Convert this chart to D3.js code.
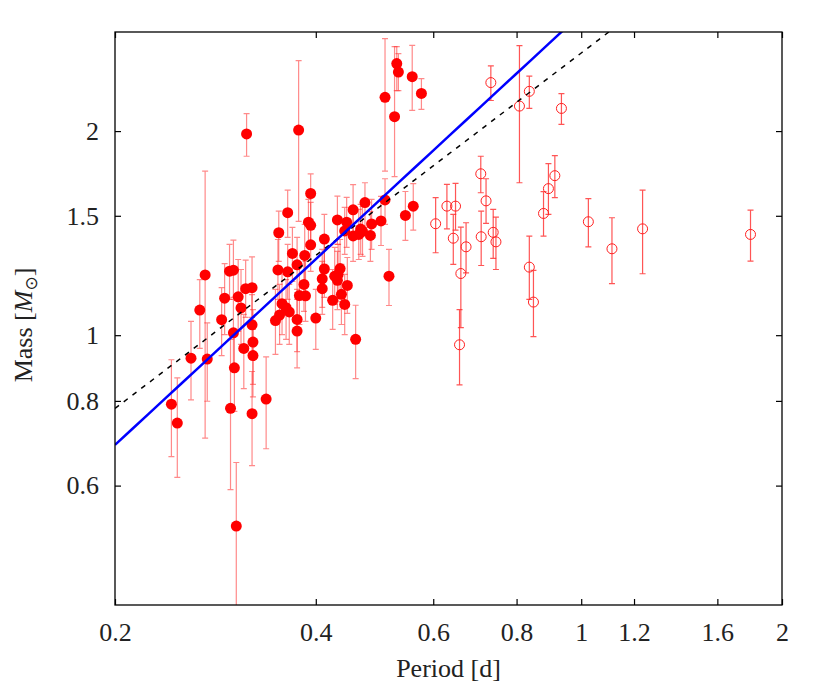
<!DOCTYPE html>
<html>
<head>
<meta charset="utf-8">
<script src="https://cdn.jsdelivr.net/npm/d3@7"></script>
<style>
  body { margin: 0; background: #fff; }
  text { font-family: "Liberation Serif", "DejaVu Serif", serif; }
</style>
</head>
<body>
<div id="chart"></div>
<script>
// filled points (short period sample): period [d], mass, upper and lower error limits
const filledPeriod = [0.243,0.248,0.260,0.268,0.273,0.275,0.289,0.292,0.297,0.301,0.298,0.302,0.304,0.306,0.309,0.301,0.312,0.314,0.321,0.315,
  0.321,0.322,0.322,0.321,0.337,0.348,0.352,0.351,0.353,0.356,0.361,0.365,0.363,0.363,0.369,0.375,0.375,0.375,0.378,0.377,
  0.384,0.385,0.386,0.390,0.393,0.393,0.393,0.400,0.409,0.409,0.412,0.412,0.424,0.427,0.432,0.431,0.431,0.435,0.437,0.442,
  0.442,0.445,0.446,0.455,0.455,0.459,0.464,0.467,0.470,0.474,0.483,0.485,0.501,0.508,0.515,0.545,0.560,0.508,0.525,0.529,
  0.532,0.558,0.576];
const filledMass = [0.791,0.742,0.925,1.089,1.227,0.922,1.054,1.134,1.243,1.247,0.780,0.895,0.523,1.139,1.097,1.008,0.956,1.171,1.175,1.981,
  1.036,0.977,0.933,0.766,0.805,1.051,1.416,1.248,1.071,1.113,1.098,1.082,1.516,1.240,1.320,1.270,1.055,1.014,1.144,2.007,
  1.188,1.311,1.143,1.468,1.452,1.618,1.359,1.060,1.211,1.171,1.386,1.252,1.126,1.222,1.229,1.205,1.479,1.254,1.149,1.110,
  1.425,1.468,1.184,1.531,1.401,0.986,1.408,1.434,1.423,1.569,1.403,1.459,1.474,1.583,1.222,1.502,1.550,2.243,2.100,2.515,
  2.444,2.406,2.273];
const filledHi = [0.920,0.865,1.048,1.208,1.746,1.043,1.175,1.275,1.361,1.381,0.986,1.020,0.649,1.293,1.250,1.129,1.073,1.290,1.305,2.122,
  1.148,1.091,1.020,0.884,0.929,1.168,1.524,1.384,1.188,1.229,1.208,1.188,1.637,1.361,1.442,1.394,1.168,1.129,1.272,2.541,
  1.316,1.457,1.285,1.586,1.570,1.730,1.482,1.168,1.338,1.285,1.507,1.375,1.250,1.347,1.361,1.329,1.604,1.384,1.272,1.229,
  1.543,1.597,1.302,1.667,1.522,1.107,1.533,1.559,1.549,1.678,1.522,1.586,1.602,1.701,1.338,1.629,1.673,2.737,2.664,2.664,
  2.601,2.676,2.390];
const filledLo = [0.662,0.617,0.803,0.956,0.705,0.799,0.933,1.002,1.129,1.137,0.592,0.772,0.356,1.013,0.969,0.905,0.834,1.062,1.062,1.836,
  0.921,0.811,0.846,0.642,0.680,0.937,1.285,1.129,0.969,1.002,0.986,0.969,1.394,1.129,1.200,1.156,0.946,0.895,1.037,1.472,
  1.084,1.188,1.048,1.352,1.338,1.472,1.242,0.953,1.099,1.073,1.272,1.137,1.020,1.110,1.121,1.091,1.361,1.137,1.037,1.002,
  1.316,1.347,1.077,1.408,1.285,0.863,1.293,1.316,1.307,1.442,1.285,1.338,1.356,1.457,1.106,1.380,1.429,1.746,1.713,2.294,
  2.294,2.146,2.153];

// open points (long period sample)
const openPeriod = [0.732,0.808,0.836,0.934,0.707,0.720,0.913,0.893,0.878,0.629,0.648,0.605,0.643,0.672,0.660,0.657,0.708,0.738,0.745,0.836,
  0.848,1.025,1.112,1.236,1.794];
const openMass = [2.358,2.177,2.289,2.160,1.730,1.578,1.719,1.645,1.512,1.550,1.550,1.460,1.390,1.350,1.233,0.968,1.397,1.418,1.373,1.260,
  1.119,1.470,1.341,1.435,1.408];
const openHi = [2.495,2.673,2.411,2.271,1.836,1.701,1.840,1.791,1.628,1.669,1.674,1.595,1.507,1.465,1.443,1.091,1.524,1.533,1.493,1.400,
  1.246,1.590,1.490,1.637,1.529];
const openLo = [2.219,1.678,2.160,2.046,1.622,1.462,1.595,1.507,1.400,1.435,1.429,1.323,1.272,1.236,1.026,0.845,1.267,1.298,1.250,1.129,
  0.995,1.350,1.191,1.232,1.286];

// power-law fits M = a * P^b
const fitSolid = { a: 2.98, b: 0.91 };
const fitDashed = { a: 2.607, b: 0.75 };

const xTicks = [0.2, 0.4, 0.6, 0.8, 1, 1.2, 1.6, 2];
const yTicks = [0.6, 0.8, 1, 1.5, 2];
const xDomain = [0.2, 2];
const yDomain = [0.4, 2.8];

const margin = { top: 32, right: 48, bottom: 87, left: 115 };
const W = 830, H = 692;
const width = W - margin.left - margin.right;
const height = H - margin.top - margin.bottom;

const svg = d3.select('#chart').append('svg')
  .attr('width', W).attr('height', H);
const g = svg.append('g').attr('transform', `translate(${margin.left},${margin.top})`);

const x = d3.scaleLog().domain(xDomain).range([0, width]);
const y = d3.scaleLog().domain(yDomain).range([height, 0]);

g.append('clipPath').attr('id', 'plotclip')
  .append('rect').attr('width', width).attr('height', height);

const plot = g.append('g').attr('clip-path', 'url(#plotclip)');

const filled = filledPeriod.map((p, i) => ({ p, m: filledMass[i], hi: filledHi[i], lo: filledLo[i] }));
const open = openPeriod.map((p, i) => ({ p, m: openMass[i], hi: openHi[i], lo: openLo[i] }));

function errorBars(sel, data, opacity) {
  const eb = sel.append('g')
    .attr('stroke', '#ff2a2a').attr('stroke-opacity', opacity).attr('stroke-width', 1.2).attr('fill', 'none');
  eb.selectAll('.bar').data(data).enter().append('path')
    .attr('d', d => {
      const cx = x(d.p), y1 = y(d.hi), y0 = y(d.lo);
      return `M${cx},${y0}V${y1}M${cx - 3},${y1}H${cx + 3}M${cx - 3},${y0}H${cx + 3}`;
    });
}

errorBars(plot, filled, 0.55);
errorBars(plot, open, 0.8);

plot.append('g').selectAll('circle').data(filled).enter().append('circle')
  .attr('cx', d => x(d.p)).attr('cy', d => y(d.m)).attr('r', 5.5)
  .attr('fill', '#ff0000');

plot.append('g').selectAll('circle').data(open).enter().append('circle')
  .attr('cx', d => x(d.p)).attr('cy', d => y(d.m)).attr('r', 5)
  .attr('fill', 'none').attr('stroke', '#ff2020').attr('stroke-width', 1);

// fit lines
const fitLine = d3.line().x(p => x(p)).y(p => y(p));
function drawFit(f, attrs) {
  const pts = d3.range(0, 41).map(i => xDomain[0] * Math.pow(xDomain[1] / xDomain[0], i / 40));
  const path = plot.append('path')
    .datum(pts)
    .attr('fill', 'none')
    .attr('d', d3.line().x(p => x(p)).y(p => y(f.a * Math.pow(p, f.b))));
  Object.entries(attrs).forEach(([k, v]) => path.attr(k, v));
}
drawFit(fitDashed, { stroke: '#000', 'stroke-width': 1.5, 'stroke-dasharray': '5,6' });
drawFit(fitSolid, { stroke: '#0000ff', 'stroke-width': 2.5 });

// axes: ticks point inward on all four sides
const fmt = d => d3.format('~g')(d);
const xAxisB = d3.axisBottom(x).tickValues(xTicks).tickFormat(fmt).tickSizeInner(-6).tickSizeOuter(0).tickPadding(18);
const xAxisT = d3.axisTop(x).tickValues(xTicks).tickFormat('').tickSizeInner(-6).tickSizeOuter(0);
const yAxisL = d3.axisLeft(y).tickValues(yTicks).tickFormat(fmt).tickSizeInner(-6).tickSizeOuter(0).tickPadding(16);
const yAxisR = d3.axisRight(y).tickValues(yTicks).tickFormat('').tickSizeInner(-6).tickSizeOuter(0);

function styleAxis(a) {
  a.select('.domain').remove();
  a.selectAll('.tick line').attr('stroke', '#000').attr('stroke-width', 1.2);
  a.selectAll('.tick text').attr('font-size', 26).attr('fill', '#222')
    .style('font-family', '"Liberation Serif", serif');
}
styleAxis(g.append('g').attr('transform', `translate(0,${height})`).call(xAxisB));
styleAxis(g.append('g').call(xAxisT));
styleAxis(g.append('g').call(yAxisL));
styleAxis(g.append('g').attr('transform', `translate(${width},0)`).call(yAxisR));

g.append('rect').attr('width', width).attr('height', height)
  .attr('fill', 'none').attr('stroke', '#000').attr('stroke-width', 1.3);

// axis labels
svg.append('text')
  .attr('x', margin.left + width / 2).attr('y', 677)
  .attr('text-anchor', 'middle').attr('font-size', 26).attr('fill', '#222')
  .text('Period [d]');

const yl = svg.append('text')
  .attr('transform', `translate(32,${325}) rotate(-90)`)
  .attr('text-anchor', 'middle').attr('font-size', 26).attr('fill', '#222');
yl.append('tspan').text('Mass [');
yl.append('tspan').attr('font-style', 'italic').text('M');
yl.append('tspan').attr('font-size', 17).attr('dy', 5).style('font-family', '"DejaVu Sans", sans-serif').text('\u2299');
yl.append('tspan').attr('dy', -5).text(']');
</script>
</body>
</html>
